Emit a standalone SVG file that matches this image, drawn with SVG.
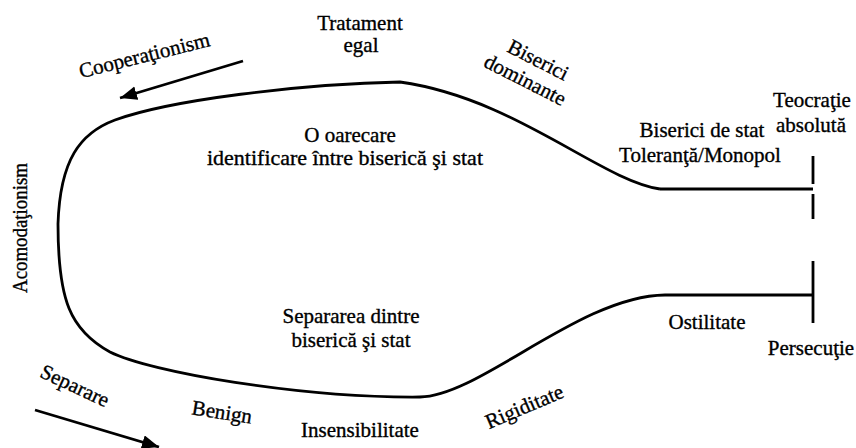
<svg xmlns="http://www.w3.org/2000/svg" width="856" height="448" viewBox="0 0 856 448">
<style>
text{font-family:"Liberation Serif","Times New Roman",serif;font-size:21px;fill:#000;stroke:#000;stroke-width:0.35;text-anchor:middle}
.ln{fill:none;stroke:#000;stroke-width:2.8;stroke-linecap:butt;stroke-linejoin:round}
.ar{fill:none;stroke:#000;stroke-width:2.8}
</style>
<defs>
<marker id="ah" markerUnits="userSpaceOnUse" markerWidth="20" markerHeight="16" refX="17" refY="7" orient="auto">
<path d="M0,0 L17,7 L0,14 Z" fill="#000"/>
</marker>
</defs>
<rect width="856" height="448" fill="#fff"/>
<g id="shape">
<path class="ln" d="M660,189 C600,180 515,98 400,82 C300,84 170,100 115,120 C80,133 60,160 58,224 C58,300 70,330 110,352 C150,372 300,398 420,397 C480,396 580,296 665,295 L813,295"/>
<path class="ln" d="M660,189 L813,189"/>
<path class="ln" d="M813,156 L813,184 M813,194 L813,219"/>
<path class="ln" d="M813,261 L813,323"/>
</g>
<g id="connectors">
<path class="ar" d="M243,61 L120,98" marker-end="url(#ah)"/>
<path class="ar" d="M35,410 L159,447" marker-end="url(#ah)"/>
</g>
<g id="labels">
<text x="360" y="30">Tratament</text>
<text x="361" y="52">egal</text>
<text transform="translate(146,62) rotate(-14)">Cooperaţionism</text>
<text transform="translate(535,66) rotate(27)">Biserici</text>
<text transform="translate(522,86) rotate(27)">dominante</text>
<text x="350" y="142">O oarecare</text>
<text x="345" y="165" textLength="276" lengthAdjust="spacingAndGlyphs">identificare între biserică şi stat</text>
<text x="702" y="137">Biserici de stat</text>
<text x="700" y="162">Toleranţă/Monopol</text>
<text x="812" y="107">Teocraţie</text>
<text x="811" y="132">absolută</text>
<text transform="translate(27,228) rotate(-90)" textLength="130" lengthAdjust="spacingAndGlyphs">Acomodaţionism</text>
<text x="351" y="323">Separarea dintre</text>
<text x="351" y="347">biserică şi stat</text>
<text x="707" y="329">Ostilitate</text>
<text x="811" y="355">Persecuţie</text>
<text transform="translate(72,392) rotate(25)">Separare</text>
<text transform="translate(221,419) rotate(9)">Benign</text>
<text x="360" y="437">Insensibilitate</text>
<text transform="translate(527,413) rotate(-23)">Rigiditate</text>
</g>
</svg>
